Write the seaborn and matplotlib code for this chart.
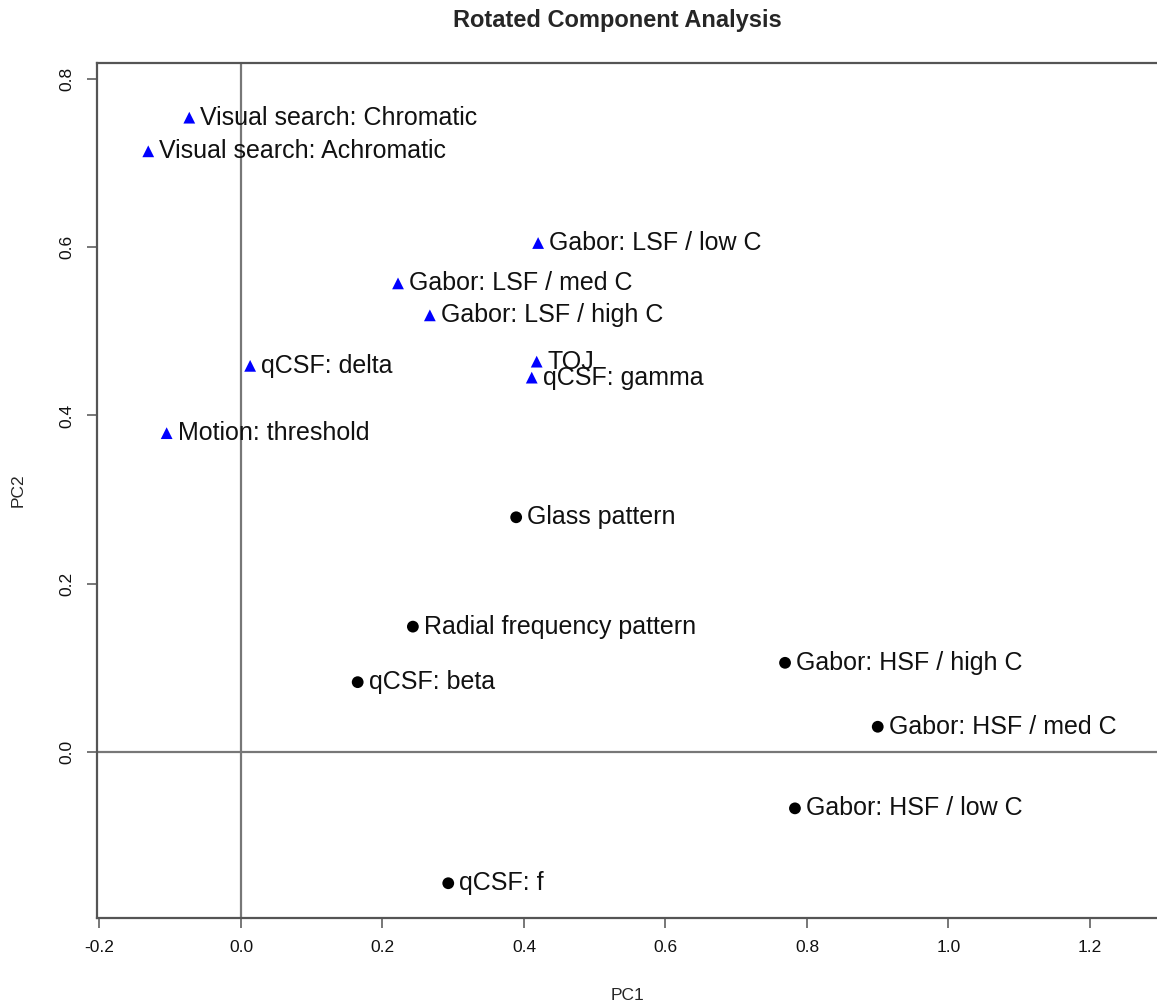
import numpy as np
import pandas as pd
import matplotlib
matplotlib.use("Agg")
import matplotlib.pyplot as plt
import seaborn as sns

# loadings
labels = ["Visual search: Chromatic", "Visual search: Achromatic", "Gabor: LSF / low C",
          "Gabor: LSF / med C", "Gabor: LSF / high C", "qCSF: delta", "TOJ", "qCSF: gamma",
          "Motion: threshold", "Glass pattern", "Radial frequency pattern", "qCSF: beta",
          "Gabor: HSF / high C", "Gabor: HSF / med C", "Gabor: HSF / low C", "qCSF: f"]
pc1 = [-0.073, -0.131, 0.420, 0.222, 0.267, 0.013, 0.418, 0.411,
       -0.105, 0.389, 0.243, 0.165, 0.769, 0.900, 0.783, 0.293]
pc2 = [0.754, 0.714, 0.605, 0.557, 0.519, 0.459, 0.464, 0.445,
       0.379, 0.279, 0.149, 0.083, 0.106, 0.030, -0.067, -0.156]
group = ["PC2"] * 9 + ["PC1"] * 7

df = pd.DataFrame({"label": labels, "PC1": pc1, "PC2": pc2, "group": group})

sns.set_style("white")
plt.rcParams["font.family"] = ["Liberation Sans", "DejaVu Sans"]

fig = plt.figure(figsize=(11.57, 10.06), dpi=100)
ax = fig.add_axes([0.0838, 0.0875, 1 - 0.0838, 0.9374 - 0.0875])

ax.axvline(0, color="#777777", lw=1.6, zorder=1)
ax.axhline(0, color="#777777", lw=1.6, zorder=1)

sns.scatterplot(data=df, x="PC1", y="PC2", hue="group", style="group",
                palette={"PC2": "blue", "PC1": "black"},
                markers={"PC2": "^", "PC1": "o"},
                s=72, edgecolor="none", legend=False, ax=ax, zorder=3)

for lab, x, y in zip(labels, pc1, pc2):
    ax.annotate(lab, (x, y), xytext=(8, 0), textcoords="offset points",
                ha="left", va="center", fontsize=18, color="#111111")

ax.set_xlim(-0.2035, 1.2947)
ax.set_ylim(-0.1973, 0.819)
ax.set_xticks([-0.2, 0.0, 0.2, 0.4, 0.6, 0.8, 1.0, 1.2])
ax.set_xticklabels(["-0.2", "0.0", "0.2", "0.4", "0.6", "0.8", "1.0", "1.2"])
ax.set_yticks([0.0, 0.2, 0.4, 0.6, 0.8])
ax.set_yticklabels(["0.0", "0.2", "0.4", "0.6", "0.8"], rotation=90, va="center")
ax.tick_params(axis="both", direction="out", length=7, width=1.4, color="#777777",
               labelsize=12.5, pad=9, bottom=True, left=True, labelcolor="#111111")

for side in ["left", "bottom", "top"]:
    ax.spines[side].set_color("#555555")
    ax.spines[side].set_linewidth(1.6)
ax.spines["right"].set_visible(False)

ax.set_xlabel("")
ax.set_ylabel("")
fig.text(628 / 1157, 1 - 995 / 1006, "PC1", ha="center", va="center", fontsize=12.5)
fig.text(18 / 1157, 1 - 490 / 1006, "PC2", ha="center", va="center", fontsize=12.5, rotation=90)
fig.text(617 / 1157, 1 - 20 / 1006, "Rotated Component Analysis", ha="center", va="center",
         fontsize=17, fontweight="bold")

fig.savefig("out.png", dpi=100)
